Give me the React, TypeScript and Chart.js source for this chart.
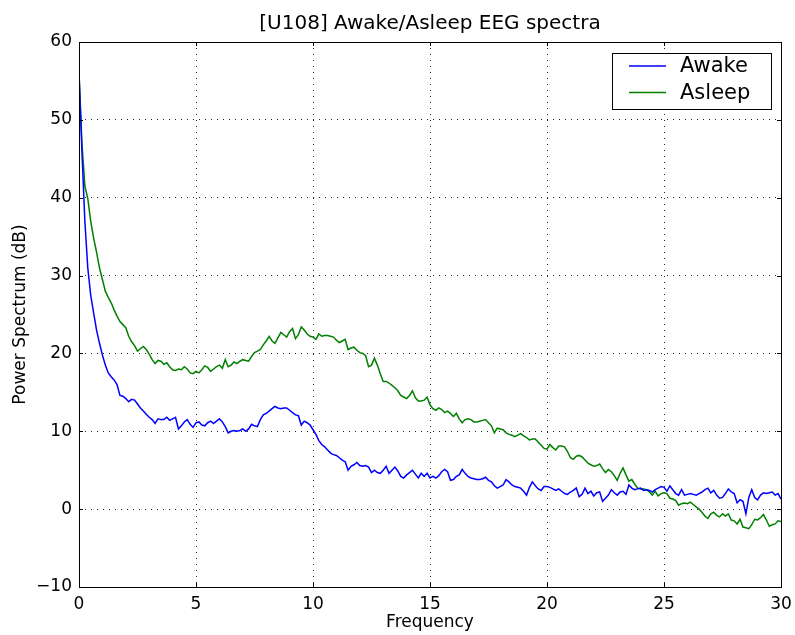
import React, { useEffect, useRef } from "react";
import { Chart, registerables } from "chart.js";

Chart.register(...registerables);

const TITLE = "[U108] Awake/Asleep EEG spectra";
const X_LABEL = "Frequency";
const Y_LABEL = "Power Spectrum (dB)";
const FREQ_STEP = 0.125;
const X_TICKS = [0, 5, 10, 15, 20, 25, 30];
const Y_TICKS = [-10, 0, 10, 20, 30, 40, 50, 60];

// one row = 1 Hz (8 bins of 0.125 Hz)
const awake = [
  56, 46, 37, 31, 27.5, 25.2, 23, 21.3,
  19.8, 18.5, 17.5, 17.0, 16.6, 16.0, 14.6, 14.5,
  14.2, 13.8, 14.1, 14.0, 13.5, 13.0, 12.6, 12.2,
  11.8, 11.5, 11.0, 11.6, 11.5, 11.5, 11.8, 11.4,
  11.6, 11.8, 10.3, 10.7, 11.2, 11.5, 10.9, 10.5,
  11.1, 11.2, 10.8, 10.7, 11.1, 11.3, 11.0, 11.3,
  11.6, 11.2, 10.6, 9.8, 10.0, 10.1, 10.0, 10.1,
  10.3, 10.0, 10.3, 10.9, 10.7, 10.6, 11.5, 12.1,
  12.3, 12.6, 12.9, 13.2, 13.0, 12.9, 13.0, 13.0,
  12.7, 12.4, 12.1, 12.0, 10.8, 11.3, 11.1, 10.8,
  10.2, 9.6, 8.8, 8.3, 8.0, 7.6, 7.2, 7.0,
  6.9, 6.6, 6.3, 6.1, 5.0, 5.5, 5.7, 6.0,
  5.6, 5.5, 5.6, 5.4, 4.7, 5.0, 4.7, 4.6,
  5.0, 5.5, 4.6, 5.0, 5.4, 4.9, 4.2, 4.0,
  4.4, 4.7, 5.0, 4.5, 4.0, 4.6, 4.2, 4.6,
  4.0, 4.2, 4.0, 4.3, 4.8, 5.1, 4.8, 3.7,
  3.8, 4.2, 4.4, 5.1, 4.6, 4.2, 4.0, 3.9,
  3.8, 3.8, 3.9, 4.1, 3.7, 3.5, 3.0, 2.7,
  2.9, 3.1, 3.8, 3.5, 3.1, 2.9, 2.8, 2.7,
  2.3, 1.8, 2.8, 3.5, 3.0, 2.6, 2.4, 2.9,
  2.9, 2.8, 2.6, 2.4, 2.6, 2.3, 2.0, 1.9,
  2.2, 2.4, 2.7, 1.6, 1.9, 2.7, 2.0, 2.3,
  1.7, 2.1, 2.2, 1.0, 1.4, 1.8, 2.5, 2.1,
  1.8, 2.2, 2.3, 1.9, 3.1, 2.7, 2.5, 2.6,
  2.7, 2.4, 2.5, 2.4, 2.2, 2.5, 2.7, 2.9,
  2.8, 2.3, 3.0, 2.5, 2.0, 1.8, 2.5, 1.8,
  1.9, 2.0, 1.9, 1.8, 2.0, 2.2, 2.5, 2.7,
  2.1, 2.4, 1.8, 1.4, 1.5, 2.0, 2.6, 2.2,
  2.0, 0.8, 1.2, 1.0, -0.6, 1.5, 2.5, 1.5,
  1.2, 1.8, 2.1, 2.0, 2.1, 2.2, 1.8, 2.0,
  1.3,
];

const asleep = [
  56, 47, 41.5, 39.9, 37, 34.8, 33, 31,
  29.5, 28, 27.2, 26.5, 25.6, 24.8, 24.1, 23.7,
  23.3, 22.2, 21.5, 21.0, 20.3, 20.6, 20.9, 20.5,
  19.9, 19.2, 18.7, 19.1, 19.0, 18.6, 18.8, 18.3,
  17.9, 17.8, 18.0, 17.9, 18.3, 18.0, 17.5, 17.4,
  17.7, 17.5, 17.9, 18.4, 18.2, 17.7, 18.0, 18.3,
  18.5, 18.1, 19.2, 18.3, 18.5, 18.9, 18.7, 19.0,
  19.2, 19.1, 19.0, 19.6, 20.1, 20.3, 20.5, 21.1,
  21.6, 22.2, 21.6, 21.3, 22.0, 22.7, 22.4, 22.1,
  22.8, 23.2, 21.9, 22.4, 23.4, 23.0, 22.5, 22.2,
  22.1, 21.8, 22.5, 22.2, 22.3, 22.3, 22.2, 22.1,
  21.7, 21.4, 21.6, 21.8, 20.5, 20.7, 20.8, 20.4,
  20.1, 20.0, 19.7, 18.3, 18.5, 19.4, 18.5, 17.4,
  16.4, 16.4, 16.2, 15.9, 15.6, 15.2, 14.6, 14.4,
  14.2, 14.6, 15.2, 14.3, 13.9, 13.9, 14.0, 14.4,
  13.4, 12.9, 12.7, 13.0, 12.8, 12.4, 12.6, 12.3,
  11.9, 12.3, 11.6, 11.1, 11.5, 11.6, 11.5, 11.2,
  11.2, 11.3, 11.4, 11.5, 11.1, 10.7, 9.8, 10.4,
  10.3, 10.2, 9.8, 9.6, 9.5, 9.3, 9.5, 9.7,
  9.4, 9.2, 8.9, 9.0, 9.0, 8.6, 8.2, 7.8,
  7.7, 8.3, 7.9, 7.6, 8.1, 8.1, 8.0, 7.4,
  6.6, 6.4, 6.8, 6.9, 6.7, 6.3, 5.9, 5.7,
  5.5, 5.6, 5.8, 5.2, 4.7, 5.1, 4.8, 4.3,
  3.7, 4.6, 5.3, 4.4, 3.6, 3.8, 3.2, 2.7,
  2.6, 2.6, 2.5, 2.2, 1.8, 2.3, 1.7, 2.0,
  2.1, 2.0, 1.4, 1.3, 1.1, 0.5, 0.7, 0.8,
  0.7, 0.9, 0.6, 0.3, 0.0, -0.4, -0.9, -1.2,
  -0.6, -0.4, -0.8, -1.0, -0.6, -0.9, -0.6, -1.4,
  -1.5, -1.9, -1.3, -2.3, -2.4, -2.5, -2.0, -1.3,
  -1.4, -1.1, -0.7, -1.4, -2.2, -2.0, -1.9, -1.5,
  -1.6,
];

const SERIES = [
  { label: "Awake", values: awake, color: "#0000ff" },
  { label: "Asleep", values: asleep, color: "#008000" },
];

const FONT = "'DejaVu Sans', sans-serif";

const decorPlugin = {
  id: "decor",
  afterDraw(chart: any) {
    const { ctx, chartArea, scales } = chart;
    const { left, right, top, bottom } = chartArea;
    const xs = scales.x;
    const ys = scales.y;
    ctx.save();
    ctx.strokeStyle = "#000";
    ctx.lineWidth = 1;
    ctx.setLineDash([]);
    ctx.beginPath();
    xs.ticks.forEach((t: any) => {
      const px = Math.round(xs.getPixelForValue(t.value)) + 0.5;
      ctx.moveTo(px, bottom);
      ctx.lineTo(px, bottom - 4);
      ctx.moveTo(px, top);
      ctx.lineTo(px, top + 4);
    });
    ys.ticks.forEach((t: any) => {
      const py = Math.round(ys.getPixelForValue(t.value)) + 0.5;
      ctx.moveTo(left, py);
      ctx.lineTo(left + 4, py);
      ctx.moveTo(right, py);
      ctx.lineTo(right - 4, py);
    });
    ctx.stroke();
    ctx.strokeRect(Math.round(left) + 0.5, Math.round(top) + 0.5, Math.round(right - left), Math.round(bottom - top));

    // title
    ctx.fillStyle = "#000";
    ctx.font = `20px ${FONT}`;
    ctx.textAlign = "center";
    ctx.textBaseline = "alphabetic";
    ctx.fillText(TITLE, (left + right) / 2, 29);

    // legend
    const bx = 612.5, by = 53.5, bw = 159, bh = 56;
    ctx.fillStyle = "#fff";
    ctx.fillRect(bx, by, bw, bh);
    ctx.strokeRect(bx, by, bw, bh);
    ctx.font = `21px ${FONT}`;
    ctx.textAlign = "left";
    ctx.textBaseline = "middle";
    chart.data.datasets.forEach((ds: any, i: number) => {
      const ly = 66 + i * 26.5;
      ctx.strokeStyle = ds.borderColor;
      ctx.lineWidth = 1.5;
      ctx.beginPath();
      ctx.moveTo(629, ly);
      ctx.lineTo(666, ly);
      ctx.stroke();
      ctx.fillStyle = "#000";
      ctx.fillText(ds.label, 680, ly + 1);
    });
    ctx.restore();
  },
};

export default function App() {
  const ref = useRef<HTMLCanvasElement>(null);
  useEffect(() => {
    if (!ref.current) return;
    const datasets = SERIES.map((s) => ({
      label: s.label,
      data: s.values.map((v, i) => ({ x: i * FREQ_STEP, y: v })),
      borderColor: s.color,
      backgroundColor: s.color,
      borderWidth: 1.5,
      pointRadius: 0,
      tension: 0,
      fill: false,
    }));
    const chart = new Chart(ref.current, {
      type: "line",
      data: { datasets },
      options: {
        animation: false,
        responsive: false,
        devicePixelRatio: 1,
        layout: { padding: { left: 0, right: 14, top: 42, bottom: 0 } },
        plugins: {
          legend: { display: false },
          title: { display: false },
          tooltip: { enabled: false },
        },
        scales: {
          x: {
            type: "linear",
            min: 0,
            max: 30,
            afterBuildTicks: (axis: any) => {
              axis.ticks = X_TICKS.map((v) => ({ value: v }));
            },
            afterFit: (axis: any) => {
              axis.height = 48;
              axis.paddingLeft = 0;
              axis.paddingRight = 0;
            },
            border: { display: false, dash: [1, 5] },
            grid: {
              color: "rgba(0,0,0,0.85)",
              lineWidth: 1,
              drawTicks: false,
            },
            ticks: {
              color: "#000",
              font: { family: FONT, size: 17 },
              padding: 7,
              maxRotation: 0,
              callback: (v: any) => String(v),
            },
            title: {
              display: true,
              text: X_LABEL,
              color: "#000",
              font: { family: FONT, size: 17 },
              padding: { top: 0, bottom: 2 },
            },
          },
          y: {
            type: "linear",
            min: -10,
            max: 60,
            afterBuildTicks: (axis: any) => {
              axis.ticks = Y_TICKS.map((v) => ({ value: v }));
            },
            afterFit: (axis: any) => {
              axis.width = 79;
              axis.paddingTop = 0;
              axis.paddingBottom = 0;
            },
            border: { display: false, dash: [1, 5] },
            grid: {
              color: "rgba(0,0,0,0.85)",
              lineWidth: 1,
              drawTicks: false,
            },
            ticks: {
              color: "#000",
              font: { family: FONT, size: 17 },
              padding: 7,
              callback: (v: any) => (v < 0 ? "\u2212" + Math.abs(v) : String(v)),
            },
            title: {
              display: true,
              text: Y_LABEL,
              color: "#000",
              font: { family: FONT, size: 17 },
              padding: { top: 10, bottom: 0 },
            },
          },
        },
      },
      plugins: [decorPlugin],
    } as any);
    return () => chart.destroy();
  }, []);
  return (
    <div style={{ position: "absolute", left: 0, top: 0, width: 795, height: 635, background: "#fff" }}>
      <canvas ref={ref} width={795} height={635} style={{ width: 795, height: 635 }} />
    </div>
  );
}
